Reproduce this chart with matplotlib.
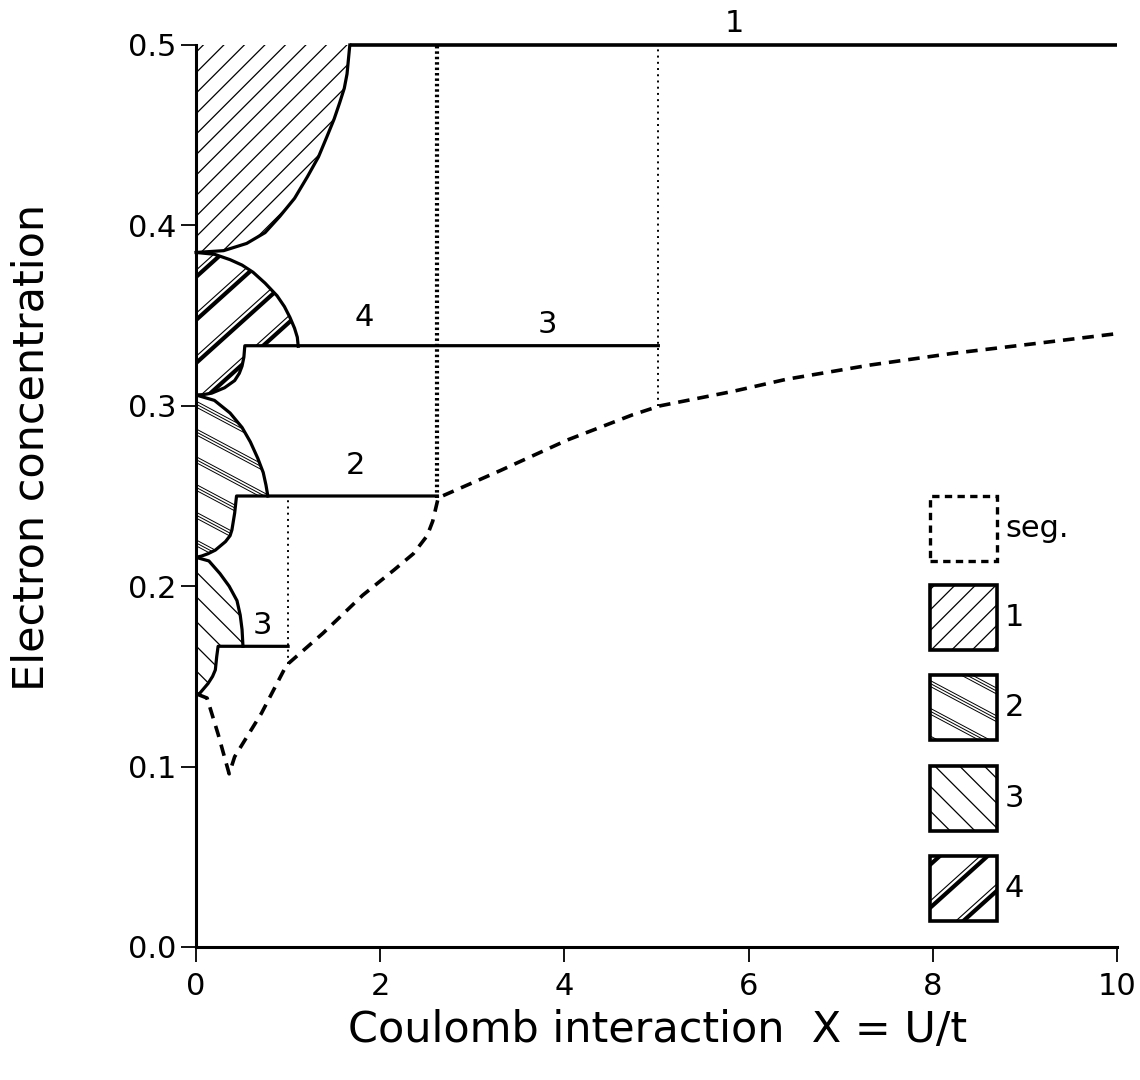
import numpy as np
import matplotlib
matplotlib.use('Agg')
import matplotlib.pyplot as plt
from matplotlib.patches import Polygon, Rectangle

plt.rcParams['font.family'] = ['DejaVu Sans']

# phase boundaries (X = U/t, electron concentration n)
r1_x = [0.0, 0.30, 0.55, 0.75, 0.91, 1.07, 1.21, 1.33, 1.42, 1.50, 1.56, 1.61, 1.64, 1.67]
r1_y = [0.385, 0.386, 0.390, 0.396, 0.405, 0.415, 0.427, 0.438, 0.449, 0.459, 0.468, 0.476, 0.484, 0.500]

r4_top_x = [0.0, 0.20, 0.37, 0.50, 0.62, 0.75, 0.88, 0.96, 1.02, 1.07, 1.10, 1.11]
r4_top_y = [0.385, 0.384, 0.381, 0.378, 0.374, 0.368, 0.361, 0.355, 0.349, 0.343, 0.338, 0.333]
r4_bot_x = [0.0, 0.08, 0.17, 0.31, 0.42, 0.47, 0.50, 0.52, 0.53]
r4_bot_y = [0.306, 0.3062, 0.307, 0.310, 0.314, 0.318, 0.322, 0.327, 0.3333]

r2_top_x = [0.0, 0.20, 0.37, 0.50, 0.59, 0.67, 0.73, 0.76, 0.78]
r2_top_y = [0.306, 0.303, 0.296, 0.288, 0.280, 0.271, 0.263, 0.256, 0.250]
r2_bot_x = [0.0, 0.06, 0.13, 0.21, 0.32, 0.37, 0.39, 0.42, 0.44]
r2_bot_y = [0.216, 0.2167, 0.218, 0.220, 0.2247, 0.228, 0.2312, 0.2406, 0.250]

r3_top_x = [0.0, 0.14, 0.26, 0.36, 0.445, 0.48, 0.50, 0.51]
r3_top_y = [0.216, 0.214, 0.207, 0.200, 0.192, 0.184, 0.176, 0.1667]
r3_bot_x = [0.0, 0.04, 0.13, 0.18, 0.21, 0.225, 0.24]
r3_bot_y = [0.140, 0.1406, 0.146, 0.150, 0.1536, 0.161, 0.1667]

# plateau ends (commensurate fillings 1/3, 1/4, 1/6 and 1/2)
plateau_n = [1/3, 0.25, 1/6]
plateau_end = [5.02, 2.62, 1.0]
half_start = 1.67

# segregation boundary (dashed)
seg_x = [0.02, 0.12, 0.24, 0.36, 0.42, 0.71, 0.97, 1.0, 1.38, 1.81, 2.15, 2.36, 2.51, 2.57, 2.63,
         3.30, 4.03, 4.74, 5.04, 5.83, 6.41, 7.32, 8.22, 9.13, 10.0]
seg_y = [0.140, 0.138, 0.118, 0.096, 0.1055, 0.1295, 0.155, 0.157, 0.174, 0.195, 0.209, 0.218, 0.228,
         0.236, 0.249, 0.264, 0.281, 0.295, 0.300, 0.308, 0.3147, 0.3226, 0.3291, 0.3346, 0.340]

# dotted verticals: (x, n_low, n_high)
dot_thin = [(1.0, 0.157, 0.25), (5.02, 0.300, 0.5)]
dot_bold = [(2.62, 0.249, 0.5)]

# curve labels
labels = ['1', '4', '3', '2', '3']
label_x = [5.85, 1.83, 3.82, 1.73, 0.72]
label_y = [0.512, 0.349, 0.345, 0.267, 0.178]

legend_names = ['seg.', '1', '2', '3', '4']

fig = plt.figure(figsize=(11.4, 10.8), dpi=100)
ax = fig.add_axes([196/1140, 133/1080, 921/1140, 902/1080])
AX_W, AX_H = 921.0, 902.0


def hatch(clip, angle, spacing, strokes):
    a = np.radians(angle)
    d = np.array([np.cos(a), np.sin(a)])
    nv = np.array([-np.sin(a), np.cos(a)])
    L = np.hypot(AX_W, AX_H)
    ctr = np.array([AX_W / 2, AX_H / 2])
    for k in np.arange(-L, L, spacing):
        for off, lw in strokes:
            c = (k + off) * nv + ctr
            p0 = c - L * d
            p1 = c + L * d
            ln, = ax.plot([p0[0] / AX_W, p1[0] / AX_W], [p0[1] / AX_H, p1[1] / AX_H],
                          transform=ax.transAxes, color='k', lw=lw, solid_capstyle='butt')
            ln.set_clip_path(clip)


styles = {
    '1': (45, 14.5, [(0, 0.9)]),
    '2': (-28, 24.5, [(0, 0.7), (2.6, 0.7), (5.2, 0.7)]),
    '3': (-45, 17.5, [(0, 0.9)]),
    '4': (42, 32, [(0, 3.0), (5.0, 0.8)]),
}

# regions
poly1 = list(zip(r1_x, r1_y)) + [(0.0, 0.5)]
poly4 = list(zip(r4_top_x, r4_top_y)) + list(zip(r4_bot_x[::-1], r4_bot_y[::-1]))
poly2 = list(zip(r2_top_x, r2_top_y)) + list(zip(r2_bot_x[::-1], r2_bot_y[::-1]))
poly3 = list(zip(r3_top_x, r3_top_y)) + list(zip(r3_bot_x[::-1], r3_bot_y[::-1]))

for key, pts in [('1', poly1), ('4', poly4), ('2', poly2), ('3', poly3)]:
    pg = Polygon(pts, closed=True, facecolor='none', edgecolor='none')
    ax.add_patch(pg)
    ang, sp, st = styles[key]
    hatch(pg, ang, sp, st)

LW = 2.3
ax.plot(r1_x, r1_y, color='k', lw=LW, clip_on=False)
ax.plot([half_start, 10], [0.5, 0.5], color='k', lw=2.6, solid_capstyle='butt', clip_on=False)
ax.plot(r4_top_x, r4_top_y, color='k', lw=LW)
ax.plot(r2_top_x, r2_top_y, color='k', lw=LW)
ax.plot(r3_top_x, r3_top_y, color='k', lw=LW)
for bx, by, n, xe in [(r4_bot_x, r4_bot_y, plateau_n[0], plateau_end[0]),
                      (r2_bot_x, r2_bot_y, plateau_n[1], plateau_end[1]),
                      (r3_bot_x, r3_bot_y, plateau_n[2], plateau_end[2])]:
    ax.plot(list(bx) + [xe], list(by) + [n], color='k', lw=LW)

ax.plot(seg_x, seg_y, color='k', lw=2.6, dashes=(3.2, 2.2))

for x, lo, hi in dot_thin:
    ax.plot([x, x], [lo, hi], color='k', lw=1.4, dashes=(1.0, 2.2))
for x, lo, hi in dot_bold:
    ax.plot([x, x], [lo, hi], color='k', lw=3.0, dashes=(0.6, 0.7))

for t, x, y in zip(labels, label_x, label_y):
    ax.text(x, y, t, fontsize=22, ha='center', va='center', clip_on=False)

# legend boxes
box_w, box_h = 67 / AX_W, 65 / AX_H
box_x = (930 - 196) / AX_W
box_tops = [0.500, 0.401, 0.3016, 0.2007, 0.1009]
for name, top in zip(legend_names, box_tops):
    y0 = top - box_h
    if name == 'seg.':
        r = Rectangle((box_x, y0), box_w, box_h, transform=ax.transAxes, facecolor='white',
                      edgecolor='k', lw=2.4, linestyle=(0, (2.2, 1.6)), zorder=3)
        ax.add_patch(r)
    else:
        r = Rectangle((box_x, y0), box_w, box_h, transform=ax.transAxes, facecolor='white',
                      edgecolor='none', zorder=2)
        ax.add_patch(r)
        ang, sp, st = styles[name]
        hatch(r, ang, sp, st)
        ax.add_patch(Rectangle((box_x, y0), box_w, box_h, transform=ax.transAxes,
                               facecolor='none', edgecolor='k', lw=2.6, zorder=4))
    ax.text(box_x + box_w + 8 / AX_W, y0 + box_h / 2, name, transform=ax.transAxes,
            fontsize=22, ha='left', va='center')

ax.set_xlim(0, 10)
ax.set_ylim(0, 0.5)
ax.set_xticks([0, 2, 4, 6, 8, 10])
ax.set_yticks([0.0, 0.1, 0.2, 0.3, 0.4, 0.5])
ax.set_yticklabels(['0.0', '0.1', '0.2', '0.3', '0.4', '0.5'])
ax.spines['top'].set_visible(False)
ax.spines['right'].set_visible(False)
for s in ['left', 'bottom']:
    ax.spines[s].set_linewidth(2.2)
ax.tick_params(axis='both', direction='out', length=11, width=1.3, labelsize=22)
ax.tick_params(axis='y', pad=3)
ax.tick_params(axis='x', pad=7)

fig.text(658 / 1140, 1 - 1030 / 1080, 'Coulomb interaction  X = U/t', fontsize=31,
         ha='center', va='center')
fig.text(32 / 1140, 1 - 447 / 1080, 'Electron concentration', fontsize=31, rotation=90,
         ha='center', va='center')

fig.savefig('out.png', dpi=100, facecolor='white')
